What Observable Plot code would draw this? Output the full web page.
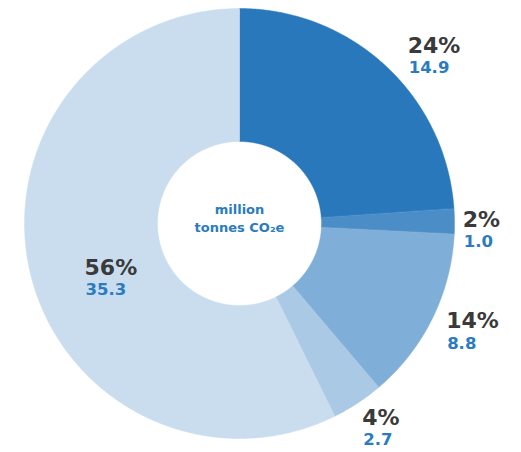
<!DOCTYPE html>
<html><head><meta charset="utf-8">
<script src="https://cdn.jsdelivr.net/npm/d3@7"></script>
<script src="https://cdn.jsdelivr.net/npm/@observablehq/plot@0.6"></script>
<style>body{margin:0;background:#fff}</style>
</head><body><div id="chart"></div>
<script>
// --- data ---
const categories = ["Sector 1", "Sector 2", "Sector 3", "Sector 4", "Sector 5"];
const values = [14.9, 1.0, 8.8, 2.7, 35.3];              // labelled values (million t CO2e)
const sliceShares = [23.9, 1.9, 13.0, 3.9, 57.3];        // slice sizes as drawn in the picture (%)
const percentLabels = ["24%", "2%", "14%", "4%", "56%"];
const valueLabels = ["14.9", "1.0", "8.8", "2.7", "35.3"];
const centerLines = ["million", "tonnes CO\u2082e"];

// --- styling / layout (not data) ---
const colors = ["#2878bb", "#4b8dc7", "#7fafd8", "#a9c9e4", "#c9ddee"];
const W = 521, H = 452, CX = 239, CY = 223, R = 215;
const innerR = 82 / R;
const labelR = [1.09, 1.09, 1.09, 1.09, 0.735];
const nudgePx = [[9, -6], [-11, 3], [-3, -7], [4, -8], [0, 13]]; // [dx, dy] px

const pie = d3.pie().sort(null).value(d => d.share)(categories.map((c, i) => ({c, share: sliceShares[i], value: values[i], i})));

const pts = [];
for (const a of pie) {
  const n = Math.max(4, Math.ceil((a.endAngle - a.startAngle) / 0.005));
  for (let k = 0; k <= n; k++) {
    const t = a.startAngle + (a.endAngle - a.startAngle) * k / n;
    pts.push({c: a.data.c, x: Math.sin(t), y: Math.cos(t)});
  }
  for (let k = n; k >= 0; k--) {
    const t = a.startAngle + (a.endAngle - a.startAngle) * k / n;
    pts.push({c: a.data.c, x: innerR * Math.sin(t), y: innerR * Math.cos(t)});
  }
}

// label anchors computed from the labelled values' mid-angles
const labelPie = d3.pie().sort(null)(values);
const labels = labelPie.map((a, i) => {
  const m = (a.startAngle + a.endAngle) / 2;
  return {
    c: categories[i],
    x: labelR[i] * Math.sin(m) + nudgePx[i][0] / R,
    y: labelR[i] * Math.cos(m) - nudgePx[i][1] / R,
    pct: percentLabels[i],
    val: valueLabels[i]
  };
});

const chart = Plot.plot({
  width: W, height: H,
  marginLeft: CX - R, marginRight: W - (CX + R),
  marginTop: CY - R, marginBottom: H - (CY + R),
  x: {domain: [-1, 1], axis: null},
  y: {domain: [-1, 1], axis: null},
  color: {domain: categories, range: colors},
  style: {fontFamily: "DejaVu Sans, sans-serif", background: "#fff"},
  marks: [
    Plot.line(pts, {x: "x", y: "y", z: "c", fill: "c", stroke: "c", strokeWidth: 0.5, curve: "linear-closed"}),
    Plot.text(labels, {x: "x", y: "y", text: "pct", textAnchor: "start", lineAnchor: "middle",
      fill: "#3a3a3a", fontSize: 22, fontWeight: "bold"}),
    Plot.text(labels, {x: "x", y: "y", text: "val", textAnchor: "start", lineAnchor: "middle", dy: 22, dx: 1,
      fill: "#2a7bbf", fontSize: 16.5, fontWeight: "bold"}),
    Plot.text([centerLines.join("\n")], {x: [0], y: [0], text: d => d, frameAnchor: "middle",
      fill: "#2a7bbf", fontSize: 13, fontWeight: "bold", lineHeight: 1.38, dy: -6})
  ]
});
document.getElementById("chart").appendChild(chart);
</script>
</body></html>
